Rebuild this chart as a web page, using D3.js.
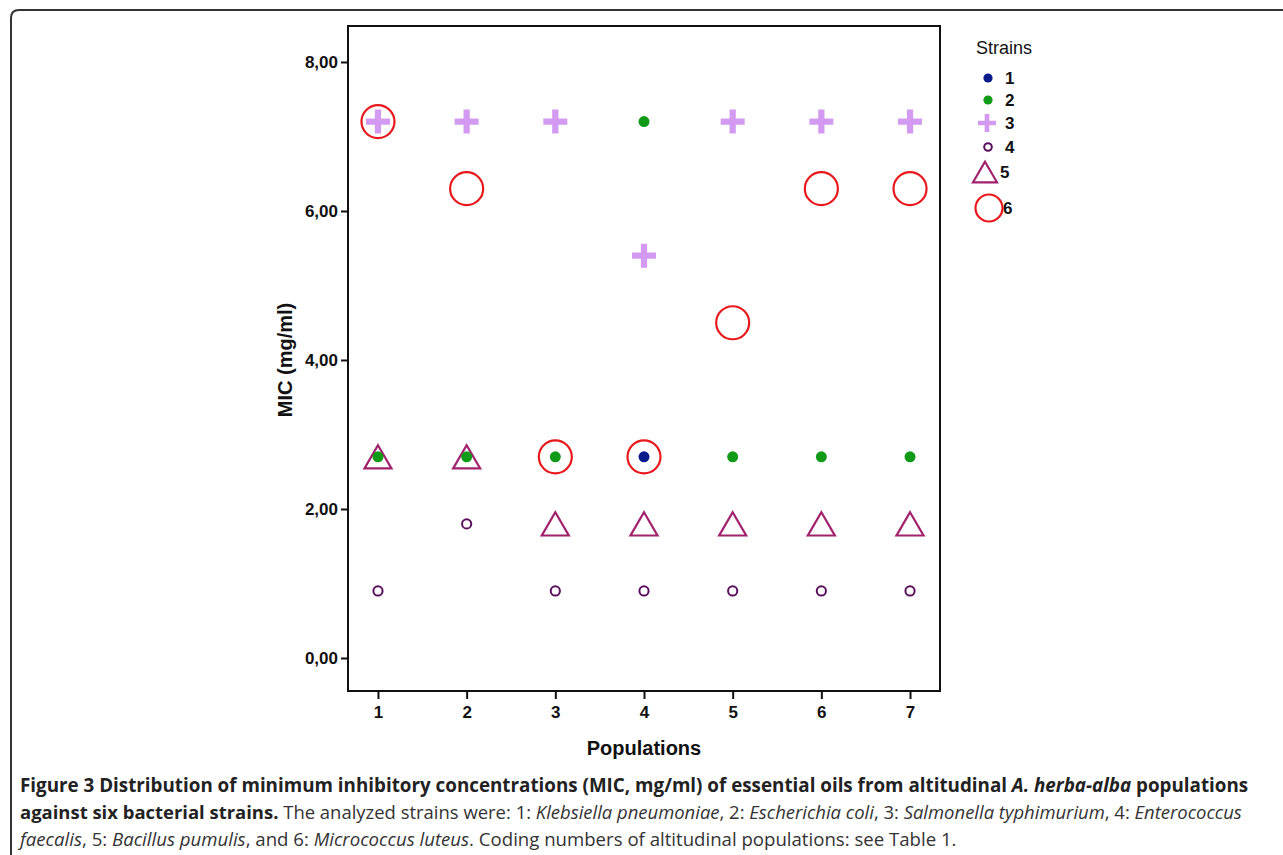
<!DOCTYPE html>
<html>
<head>
<meta charset="utf-8">
<script src="https://cdn.jsdelivr.net/npm/d3@7"></script>
<style>
  html, body { margin: 0; padding: 0; background: #fff; }
  svg { display: block; }
  .ar { font-family: "Liberation Sans", Arimo, Arial, sans-serif; }
  .cap { font-family: "Liberation Sans Narrow", "Open Sans", sans-serif; }
</style>
</head>
<body>
<svg id="chart" width="1283" height="855"></svg>
<script>
// ---- data ----
const populations = [1, 2, 3, 4, 5, 6, 7];
const strains = ["1", "2", "3", "4", "5", "6"];
const yTicks = [0, 2, 4, 6, 8];
const yTickLabels = ["0,00", "2,00", "4,00", "6,00", "8,00"];
// MIC (mg/ml) per population for each strain (null = no marker)
const strain1 = [null, null, null, 2.7, null, null, null];
const strain2 = [2.7, 2.7, 2.7, 7.2, 2.7, 2.7, 2.7];
const strain3 = [7.2, 7.2, 7.2, 5.4, 7.2, 7.2, 7.2];
const strain4 = [0.9, 1.8, 0.9, 0.9, 0.9, 0.9, 0.9];
const strain5 = [2.7, 2.7, 1.8, 1.8, 1.8, 1.8, 1.8];
const strain6 = [7.2, 6.3, 2.7, 2.7, 4.5, 6.3, 6.3];

const svg = d3.select("#chart");

// outer rounded frame
svg.append("path")
  .attr("d", "M11,860 L11,18 Q11,10 19,10 L1290,10")
  .attr("fill", "none").attr("stroke", "#333").attr("stroke-width", 2);

const plot = { left: 348, right: 940, top: 26, bottom: 691 };
const x = d3.scaleLinear().domain([0.662, 7.338]).range([plot.left, plot.right]);
const y = d3.scaleLinear().domain([-0.443, 8.483]).range([plot.bottom, plot.top]);

// custom symbol types (size = half extent in px)
const plusType = { draw(c, s) { const t = s * 0.26;
  c.moveTo(-s, -t); c.lineTo(-t, -t); c.lineTo(-t, -s); c.lineTo(t, -s); c.lineTo(t, -t);
  c.lineTo(s, -t); c.lineTo(s, t); c.lineTo(t, t); c.lineTo(t, s); c.lineTo(-t, s);
  c.lineTo(-t, t); c.lineTo(-s, t); c.closePath(); } };
const triType = { draw(c, s) { const h = s * 0.86;
  c.moveTo(0, -h); c.lineTo(s, h); c.lineTo(-s, h); c.closePath(); } };
const circType = { draw(c, s) { c.moveTo(s, 0); c.arc(0, 0, s, 0, 2 * Math.PI); } };

const styles = [
  { type: circType, size: 5.5, legendSize: 4.6, fill: "#0b1b8c", stroke: "none", sw: 0 },
  { type: circType, size: 5.5, legendSize: 4.6, fill: "#0f9a18", stroke: "none", sw: 0 },
  { type: plusType, size: 12, legendSize: 9, fill: "#d39af2", stroke: "none", sw: 0 },
  { type: circType, size: 4.6, legendSize: 3.8, fill: "none", stroke: "#5a0f5c", sw: 2 },
  { type: triType, size: 13.5, legendSize: 12, fill: "none", stroke: "#a1216c", sw: 2.2 },
  { type: circType, size: 16.5, legendSize: 13.5, fill: "none", stroke: "#e8181c", sw: 2.2 }
];
const seriesData = [strain1, strain2, strain3, strain4, strain5, strain6];

// frame
svg.append("rect")
  .attr("x", plot.left).attr("y", plot.top)
  .attr("width", plot.right - plot.left).attr("height", plot.bottom - plot.top)
  .attr("fill", "none").attr("stroke", "#111").attr("stroke-width", 2);

// y axis
const yAxis = d3.axisLeft(y).tickValues(yTicks)
  .tickFormat((d, i) => yTickLabels[i]).tickSize(7).tickPadding(3);
const gy = svg.append("g").attr("transform", `translate(${plot.left},0)`).call(yAxis);
gy.attr("font-family", null).attr("font-size", null);
gy.select(".domain").remove();
gy.selectAll("line").attr("stroke", "#111").attr("stroke-width", 2);
gy.selectAll("text").attr("class", "ar")
  .style("font-size", "17px").style("font-weight", "bold").attr("fill", "#111");

// x axis
const xAxis = d3.axisBottom(x).tickValues(populations).tickFormat(d3.format("d"))
  .tickSize(8).tickPadding(7);
const gx = svg.append("g").attr("transform", `translate(0,${plot.bottom})`).call(xAxis);
gx.attr("font-family", null).attr("font-size", null);
gx.select(".domain").remove();
gx.selectAll("line").attr("stroke", "#111").attr("stroke-width", 2);
gx.selectAll("text").attr("class", "ar")
  .style("font-size", "17px").style("font-weight", "bold").attr("fill", "#111");

// axis titles
svg.append("text").attr("class", "ar").attr("x", x(4)).attr("y", 755).attr("text-anchor", "middle")
  .style("font-size", "20px").style("font-weight", "bold").attr("fill", "#111").text("Populations");
svg.append("text").attr("class", "ar").attr("transform", `translate(292,${y(4)}) rotate(-90)`)
  .attr("text-anchor", "middle")
  .style("font-size", "20px").style("font-weight", "bold").attr("fill", "#111").text("MIC (mg/ml)");

// markers
const drawOrder = [5, 4, 3, 2, 1, 0];
drawOrder.forEach(si => {
  const st = styles[si];
  const pts = populations.map((p, i) => ({ p, v: seriesData[si][i] })).filter(d => d.v != null);
  svg.append("g").selectAll("path").data(pts).join("path")
    .attr("transform", d => `translate(${x(d.p)},${y(d.v)})`)
    .attr("d", d3.symbol().type(st.type).size(st.size))
    .attr("fill", st.fill).attr("stroke", st.stroke).attr("stroke-width", st.sw);
});

// legend
svg.append("text").attr("class", "ar").attr("x", 976).attr("y", 54)
  .style("font-size", "18px").attr("fill", "#111").text("Strains");
const legY = [78, 100, 123, 147, 172, 208];
const legX = [988, 988, 987, 988, 985, 989];
const legTX = [1005, 1005, 1005, 1005, 1000, 1003];
strains.forEach((s, i) => {
  const st = styles[i];
  svg.append("path").attr("transform", `translate(${legX[i]},${legY[i]})`)
    .attr("d", d3.symbol().type(st.type).size(st.legendSize)())
    .attr("fill", st.fill).attr("stroke", st.stroke).attr("stroke-width", st.sw);
  svg.append("text").attr("class", "ar").attr("x", legTX[i]).attr("y", legY[i] + 6)
    .style("font-size", "17px").style("font-weight", "bold").attr("fill", "#111").text(s);
});

// caption
const cap = svg.append("g").attr("class", "cap").attr("fill", "#333");
function fitLine(t, target) {
  t.style("font-size", "19px");
  const w = t.node().getComputedTextLength();
  t.style("font-size", (19 * target / w).toFixed(2) + "px");
}
const l1 = cap.append("text").attr("x", 20).attr("y", 792);
l1.append("tspan").style("font-weight", "bold").attr("fill", "#222")
  .text("Figure 3 Distribution of minimum inhibitory concentrations (MIC, mg/ml) of essential oils from altitudinal ");
l1.append("tspan").style("font-weight", "bold").style("font-style", "italic").attr("fill", "#222").text("A. herba-alba");
l1.append("tspan").style("font-weight", "bold").attr("fill", "#222").text(" populations");
fitLine(l1, 1229);

const l2 = cap.append("text").attr("x", 20).attr("y", 819);
l2.append("tspan").style("font-weight", "bold").attr("fill", "#222").text("against six bacterial strains.");
l2.append("tspan").text(" The analyzed strains were: 1: ");
l2.append("tspan").style("font-style", "italic").text("Klebsiella pneumoniae");
l2.append("tspan").text(", 2: ");
l2.append("tspan").style("font-style", "italic").text("Escherichia coli");
l2.append("tspan").text(", 3: ");
l2.append("tspan").style("font-style", "italic").text("Salmonella typhimurium");
l2.append("tspan").text(", 4: ");
l2.append("tspan").style("font-style", "italic").text("Enterococcus");
fitLine(l2, 1223);

const l3 = cap.append("text").attr("x", 20).attr("y", 846);
l3.append("tspan").style("font-style", "italic").text("faecalis");
l3.append("tspan").text(", 5: ");
l3.append("tspan").style("font-style", "italic").text("Bacillus pumulis");
l3.append("tspan").text(", and 6: ");
l3.append("tspan").style("font-style", "italic").text("Micrococcus luteus");
l3.append("tspan").text(". Coding numbers of altitudinal populations: see Table 1.");
fitLine(l3, 937);
</script>
</body>
</html>
